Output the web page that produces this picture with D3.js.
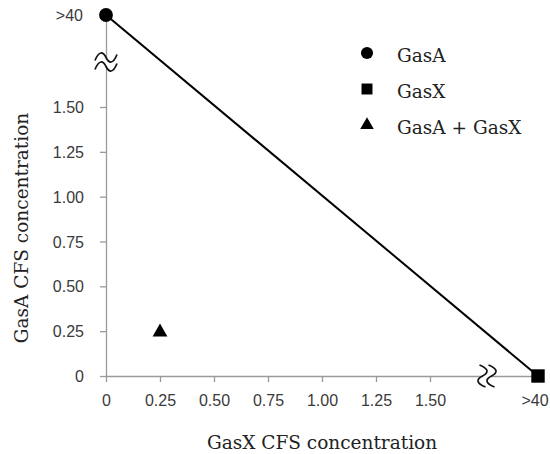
<!DOCTYPE html>
<html><head><meta charset="utf-8">
<script src="https://cdn.jsdelivr.net/npm/d3@7"></script>
<style>body{margin:0;background:#fff;}svg{display:block;}</style>
</head><body>
<script>
const xTicks = [0, 0.25, 0.5, 0.75, 1.0, 1.25, 1.5, 40];
const yTicks = [0, 0.25, 0.5, 0.75, 1.0, 1.25, 1.5, 40];
const tickLabels = {0: "0", 40: ">40"};
const lineX = [0, 40];
const lineY = [40, 0];
const pointsGasA = [{x: 0, y: 40}];
const pointsGasX = [{x: 40, y: 0}];
const pointsCombo = [{x: 0.25, y: 0.25}];
const legendLabels = ["GasA", "GasX", "GasA + GasX"];
const xTitle = "GasX CFS concentration";
const yTitle = "GasA CFS concentration";

const W = 550, H = 454;
const svg = d3.select("body").append("svg").attr("width", W).attr("height", H);
const x = d3.scaleLinear().domain([0, 1.5, 40]).range([106, 430, 538]);
const y = d3.scaleLinear().domain([0, 1.5, 40]).range([376, 107, 15]);
const fmt = d => tickLabels[d] !== undefined ? tickLabels[d] : d3.format(".2f")(d);
const axisColor = "#9a9a9a";
const tickColor = "#3a3a3a";
const tickFont = "'Liberation Sans', Arial, sans-serif";
const tickSize = "16px";
const serif = "'DejaVu Serif', 'Liberation Serif', serif";
const serifSize = "18.5px";

// axes
const xa = svg.append("g").attr("transform", `translate(0,${y(0)})`)
  .call(d3.axisBottom(x).tickValues(xTicks.filter(d => d !== 40)).tickFormat(fmt).tickSize(6).tickSizeOuter(0));
const ya = svg.append("g").attr("transform", `translate(${x(0)},0)`)
  .call(d3.axisLeft(y).tickValues(yTicks.filter(d => d !== 40)).tickFormat(fmt).tickSize(6).tickSizeOuter(0));
[xa, ya].forEach(g => {
  g.select(".domain").attr("stroke", axisColor).attr("stroke-width", 1.3);
  g.selectAll(".tick line").attr("stroke", axisColor).attr("stroke-width", 1.3);
  g.selectAll(".tick text").attr("fill", tickColor).style("font-family", tickFont).style("font-size", tickSize);
});
xa.selectAll(".tick text").attr("y", 0).attr("dy", 0).attr("transform", "translate(0,30)");
ya.selectAll(".tick text").attr("x", -22).attr("dy", "0.35em");
// >40 labels
svg.append("text").attr("x", x(40) - 3).attr("y", y(0) + 30).attr("text-anchor", "middle")
  .attr("fill", tickColor).style("font-family", tickFont).style("font-size", tickSize).text(fmt(40));
svg.append("text").attr("x", x(0) - 23).attr("y", y(40)).attr("dy", "0.35em").attr("text-anchor", "end")
  .attr("fill", tickColor).style("font-family", tickFont).style("font-size", tickSize).text(fmt(40));

// break symbols
function brk(cx, cy, rot) {
  const g = svg.append("g").attr("transform", `translate(${cx},${cy}) rotate(${rot})`);
  g.append("rect").attr("x", -12).attr("y", -4).attr("width", 24).attr("height", 8).attr("fill", "#fff");
  [-4.5, 4.5].forEach(o => {
    g.append("path").attr("d", `M-11,${o+3} C-7,${o-7} -3,${o-6} 0,${o} C3,${o+6} 7,${o+7} 11,${o-3}`)
      .attr("fill", "none").attr("stroke", "#111").attr("stroke-width", 1.7);
  });
}
brk(x(0), 62, 0);
brk(487, y(0), 90);

// line
svg.append("line").attr("x1", x(lineX[0])).attr("y1", y(lineY[0])).attr("x2", x(lineX[1])).attr("y2", y(lineY[1]))
  .attr("stroke", "#000").attr("stroke-width", 2);

// points
const sym = {
  circle: d3.symbol().type(d3.symbolCircle).size(150),
  square: d3.symbol().type(d3.symbolSquare).size(180),
  triangle: d3.symbol().type(d3.symbolTriangle).size(95)
};
svg.selectAll(".pA").data(pointsGasA).join("path").attr("d", sym.circle())
  .attr("transform", d => `translate(${x(d.x)},${y(d.y)})`).attr("fill", "#000");
svg.selectAll(".pX").data(pointsGasX).join("path").attr("d", sym.square())
  .attr("transform", d => `translate(${x(d.x)},${y(d.y)})`).attr("fill", "#000");
svg.selectAll(".pC").data(pointsCombo).join("path").attr("d", sym.triangle())
  .attr("transform", d => `translate(${x(d.x)},${y(d.y) + 1})`).attr("fill", "#000");

// legend
const lg = svg.append("g");
const lsyms = [d3.symbol().type(d3.symbolCircle).size(115), d3.symbol().type(d3.symbolSquare).size(120), d3.symbol().type(d3.symbolTriangle).size(80)];
legendLabels.forEach((t, i) => {
  const ly = 55 + i * 36;
  lg.append("path").attr("d", lsyms[i]()).attr("transform", `translate(367,${ly - 2})`).attr("fill", "#000");
  lg.append("text").attr("x", 397).attr("y", ly + 7).style("font-family", serif).style("font-size", serifSize)
    .attr("fill", "#222").text(t);
});

// titles
svg.append("text").attr("x", 322).attr("y", 449).attr("text-anchor", "middle")
  .style("font-family", serif).style("font-size", serifSize).attr("fill", "#222").text(xTitle);
svg.append("text").attr("transform", `translate(28,228) rotate(-90)`).attr("text-anchor", "middle")
  .style("font-family", serif).style("font-size", serifSize).attr("fill", "#222").text(yTitle);
</script>
</body></html>
